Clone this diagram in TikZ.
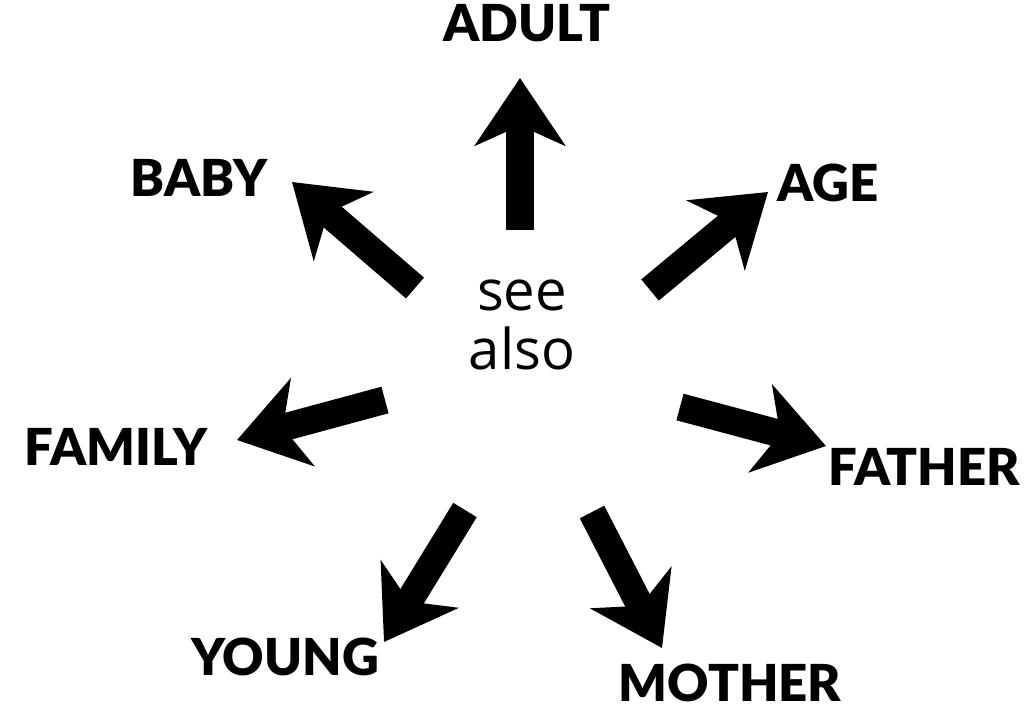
\documentclass[tikz,border=0pt]{standalone}
\usepackage{fontspec}
\usepackage{tikz}
\usetikzlibrary{arrows.meta,positioning,calc}
\newfontfamily\wordfont{Lato}[UprightFont=* Black]
\newfontfamily\seefont{Open Sans}

\begin{document}
\begin{tikzpicture}[
  x=0.02cm,y=-0.02cm,
  word/.style={font=\wordfont\fontsize{29}{32}\selectfont,inner sep=0pt},
  hub/.style={font=\seefont\fontsize{32}{34}\selectfont,align=center,inner sep=0pt},
  ar/.style={-{Stealth[length=1.35cm,width=1.8cm,inset=0.4cm]},line width=0.55cm}]
\useasboundingbox (0,0) rectangle (1027,711);
\node[hub] (see) at (522,325) {see\\also};
\node[word] (adult)  at (527,23)  {ADULT};
\node[word] (baby)   at (199,178) {BABY};
\node[word] (age)    at (828,183) {AGE};
\node[word] (family) at (116,447) {FAMILY};
\node[word] (father) at (924,467) {FATHER};
\node[word] (young)  at (285,657) {YOUNG};
\node[word] (mother) at (730,683) {MOTHER};
% tails and tips
\coordinate (t1) at (520,230); \coordinate (h1) at (520,78);
\coordinate (t2) at (415,288); \coordinate (h2) at (292,182);
\coordinate (t3) at (650,290); \coordinate (h3) at (768,192);
\coordinate (t4) at (385,400); \coordinate (h4) at (237,440);
\coordinate (t5) at (680,407); \coordinate (h5) at (826,446);
\coordinate (t6) at (465,510); \coordinate (h6) at (384,642);
\coordinate (t7) at (592,512); \coordinate (h7) at (662,648);
\draw[ar] (t1)--(h1);
\draw[ar] (t2)--(h2);
\draw[ar] (t3)--(h3);
\draw[ar] (t4)--(h4);
\draw[ar] (t5)--(h5);
\draw[ar] (t6)--(h6);
\draw[ar] (t7)--(h7);
\end{tikzpicture}
\end{document}
